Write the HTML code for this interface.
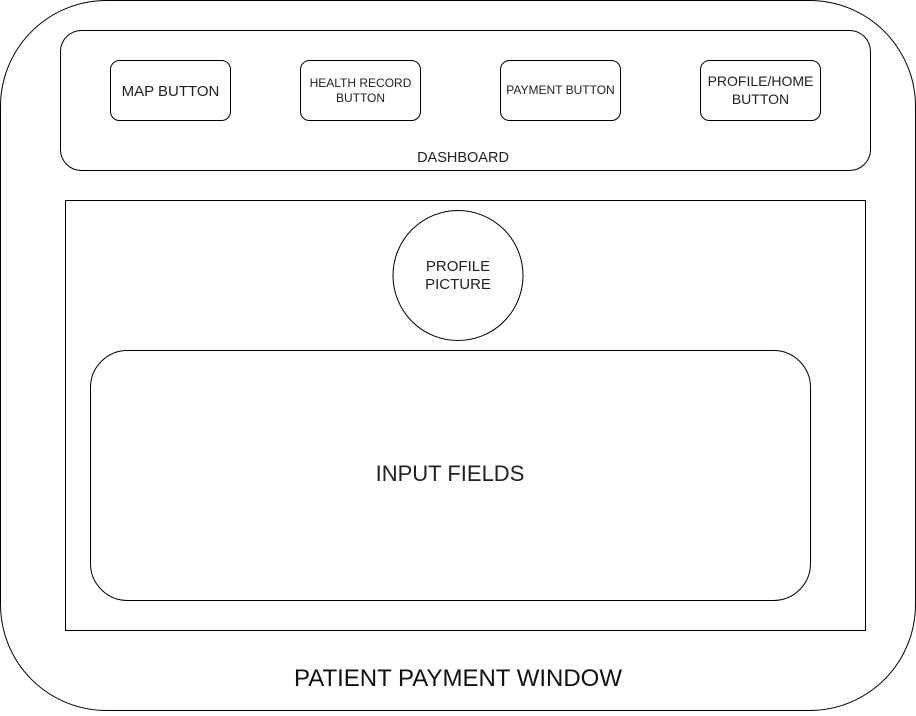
<!DOCTYPE html>
<html><head><style>body{margin:0;background:#fff}</style></head><body>
<svg width="916" height="711" xmlns="http://www.w3.org/2000/svg" font-family="Liberation Sans, Helvetica, sans-serif" fill="#000">
<rect x="0.5" y="0.5" width="915" height="710" rx="106" ry="106" fill="#fff" stroke="#000"/>
<rect x="60.5" y="30.5" width="810" height="140" rx="21" ry="21" fill="#fff" stroke="#000"/>
<rect x="110.5" y="60.5" width="120" height="60" rx="9" fill="#fff" stroke="#000"/>
<rect x="300.5" y="60.5" width="120" height="60" rx="9" fill="#fff" stroke="#000"/>
<rect x="500.5" y="60.5" width="120" height="60" rx="9" fill="#fff" stroke="#000"/>
<rect x="700.5" y="60.5" width="120" height="60" rx="9" fill="#fff" stroke="#000"/>
<g fill="#222" text-anchor="middle">
<text x="170.5" y="96" font-size="15">MAP BUTTON</text>
<text x="360.5" y="87" font-size="12">HEALTH RECORD</text>
<text x="360.5" y="102" font-size="12">BUTTON</text>
<text x="560.5" y="94" font-size="12">PAYMENT BUTTON</text>
<text x="760.5" y="86" font-size="14">PROFILE/HOME</text>
<text x="760.5" y="104" font-size="14">BUTTON</text>
<text x="463" y="162" font-size="14.5">DASHBOARD</text>
</g>
<rect x="65.5" y="200.5" width="800" height="430" fill="#fff" stroke="#000"/>
<circle cx="458" cy="275.5" r="65" fill="#fff" stroke="#000"/>
<g fill="#222" text-anchor="middle" font-size="15">
<text x="458" y="271">PROFILE</text>
<text x="458" y="289">PICTURE</text>
</g>
<rect x="90.5" y="350.5" width="720" height="250" rx="37" ry="37" fill="#fff" stroke="#000"/>
<text x="450" y="481" font-size="22" text-anchor="middle" fill="#222">INPUT FIELDS</text>
<text x="458" y="686" font-size="24" text-anchor="middle" fill="#111">PATIENT PAYMENT WINDOW</text>
</svg>
</body></html>
